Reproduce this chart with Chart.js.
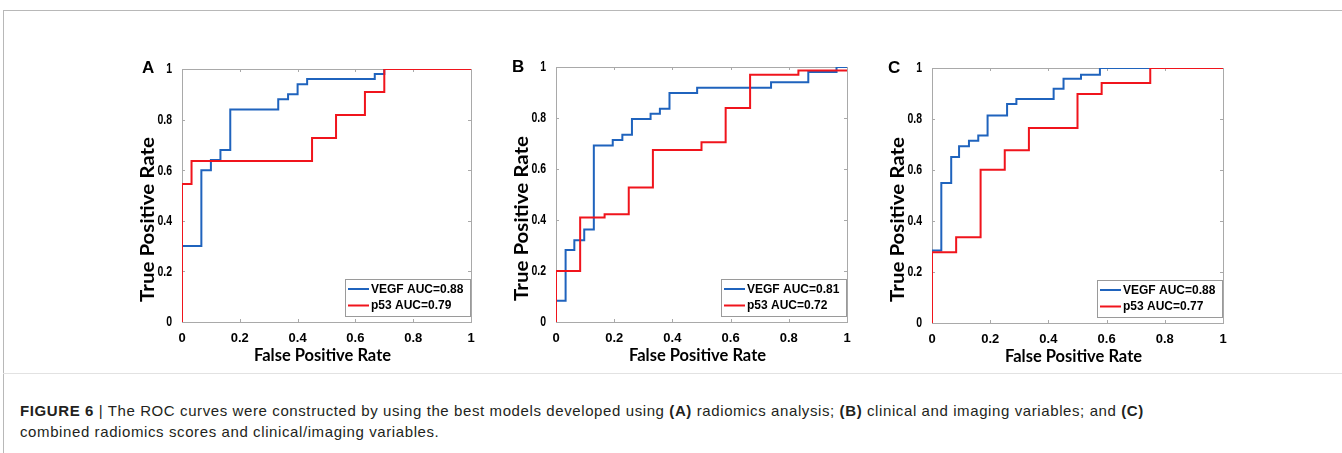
<!DOCTYPE html>
<html>
<head>
<meta charset="utf-8">
<script src="https://cdn.jsdelivr.net/npm/chart.js@4.4.1/dist/chart.umd.min.js"></script>
<style>
  html, body { margin: 0; padding: 0; background: #fff; }
  body { width: 1342px; height: 453px; position: relative; overflow: hidden; font-family: "Liberation Sans", Arial, sans-serif; }
  .frame { position: absolute; left: 3px; top: 10px; right: 0; bottom: 0; border-top: 1px solid #b8b8b8; border-left: 1px solid #b8b8b8; }
  .sep { position: absolute; left: 3px; right: 0; top: 373px; border-top: 1px solid #e2e2e2; }
  canvas { position: absolute; }
  .letter { position: absolute; font: bold 17px "Liberation Sans", Arial, sans-serif; color: #000; z-index: 2; }
  .caption { position: absolute; left: 20px; top: 400px; font-size: 15px; letter-spacing: 0.6px; line-height: 21px; color: #231f20; white-space: nowrap; }
</style>
</head>
<body>
<div class="frame"></div>
<div class="sep"></div>

<canvas id="chartA" width="355" height="315" style="left:130px;top:55px"></canvas>
<canvas id="chartB" width="357" height="317" style="left:504px;top:53px"></canvas>
<canvas id="chartC" width="357" height="317" style="left:880px;top:54px"></canvas>

<div class="letter" style="left:142px;top:58px">A</div>
<div class="letter" style="left:512px;top:57px">B</div>
<div class="letter" style="left:888px;top:58px">C</div>

<div class="caption">
  <b>FIGURE 6</b> | The ROC curves were constructed by using the best models developed using <b>(A)</b> radiomics analysis; <b>(B)</b> clinical and imaging variables; and <b>(C)</b><br>
  combined radiomics scores and clinical/imaging variables.
</div>

<script>
// x = FPR where the curve steps up, y = TPR reached at that step

// A: radiomics
const vegfA_fpr = [0, 0.067, 0.1, 0.133, 0.167, 0.333, 0.367, 0.4, 0.433, 0.667, 0.7];
const vegfA_tpr = [0.3, 0.6, 0.64, 0.68, 0.84, 0.88, 0.9, 0.94, 0.96, 0.98, 1];
const p53A_fpr = [0, 0.033, 0.45, 0.533, 0.633, 0.7];
const p53A_tpr = [0.545, 0.636, 0.727, 0.818, 0.909, 1];

// B: clinical and imaging
const vegfB_fpr = [0, 0.033, 0.063, 0.097, 0.13, 0.195, 0.228, 0.261, 0.325, 0.357, 0.39, 0.485, 0.739, 0.867, 0.964];
const vegfB_tpr = [0.083, 0.282, 0.321, 0.363, 0.692, 0.714, 0.734, 0.796, 0.817, 0.836, 0.898, 0.919, 0.94, 0.98, 1];
const p53B_fpr = [0, 0.083, 0.167, 0.25, 0.333, 0.5, 0.583, 0.667, 0.833];
const p53B_tpr = [0.2, 0.41, 0.423, 0.527, 0.675, 0.705, 0.839, 0.97, 0.986];

// C: combined
const vegfC_fpr = [0, 0.032, 0.066, 0.093, 0.127, 0.159, 0.191, 0.258, 0.29, 0.418, 0.452, 0.512, 0.577];
const vegfC_tpr = [0.284, 0.549, 0.651, 0.693, 0.715, 0.735, 0.814, 0.859, 0.878, 0.919, 0.958, 0.974, 1];
const p53C_fpr = [0, 0.083, 0.167, 0.25, 0.333, 0.5, 0.583, 0.75];
const p53C_tpr = [0.277, 0.336, 0.601, 0.677, 0.765, 0.898, 0.941, 1];

const aucLabels = {
    A: ['VEGF AUC=0.88', 'p53 AUC=0.79'],
    B: ['VEGF AUC=0.81', 'p53 AUC=0.72'],
    C: ['VEGF AUC=0.88', 'p53 AUC=0.77']
};

const tickValues = [0, 0.2, 0.4, 0.6, 0.8, 1];
const xTitle = 'False Positive Rate';
const yTitle = 'True Positive Rate';

const BLUE = '#1f63bd';
const RED = '#f0141c';
const AXIS = '#a9a9a9';

const fmt = v => (v === 0 ? '0' : v === 1 ? '1' : v.toFixed(1));

// staircase: rise at each fpr, then run to the next one
function staircase(fpr, tpr) {
    const pts = [{ x: 0, y: 0 }];
    let prev = 0;
    fpr.forEach((x, i) => {
        pts.push({ x: x, y: prev });
        pts.push({ x: x, y: tpr[i] });
        prev = tpr[i];
    });
    pts.push({ x: 1, y: prev });
    return pts;
}

// MATLAB-like box, inward ticks, squeezed y labels and boxed legend
const matlabBox = {
    id: 'matlabBox',
    beforeDatasetsDraw(chart) {
        const { ctx, chartArea: a, scales } = chart;
        ctx.save();
        ctx.strokeStyle = AXIS;
        ctx.lineWidth = 1;
        ctx.strokeRect(a.left + 0.5, a.top + 0.5, a.right - a.left, a.bottom - a.top);
        const len = 3;
        ctx.beginPath();
        tickValues.forEach(v => {
            const px = Math.round(scales.x.getPixelForValue(v)) + 0.5;
            const py = Math.round(scales.y.getPixelForValue(v)) + 0.5;
            ctx.moveTo(px, a.bottom); ctx.lineTo(px, a.bottom - len);
            ctx.moveTo(px, a.top); ctx.lineTo(px, a.top + len);
            ctx.moveTo(a.left, py); ctx.lineTo(a.left + len, py);
            ctx.moveTo(a.right, py); ctx.lineTo(a.right - len, py);
        });
        ctx.stroke();

        // y tick labels (narrow, as in the source figure)
        ctx.fillStyle = '#000';
        ctx.font = 'bold 14px "Liberation Sans", Arial, sans-serif';
        ctx.textAlign = 'right';
        ctx.textBaseline = 'middle';
        tickValues.forEach(v => {
            ctx.save();
            ctx.translate(a.left - 10, scales.y.getPixelForValue(v) + 0.5);
            ctx.scale(0.75, 1);
            ctx.fillText(fmt(v), 0, 0);
            ctx.restore();
        });

        // y title
        ctx.save();
        ctx.translate(a.left - 34, (a.top + a.bottom) / 2 + 24);
        ctx.rotate(-Math.PI / 2);
        ctx.scale(1, 0.88);
        ctx.textAlign = 'center';
        ctx.font = 'bold 20.5px Lato, "Open Sans", sans-serif';
        ctx.fillText(yTitle, 0, 0);
        ctx.restore();

        // x title
        ctx.textAlign = 'center';
        ctx.font = 'bold 16.5px Lato, "Open Sans", sans-serif';
        ctx.fillText(xTitle, (a.left + a.right) / 2 - 4, a.bottom + 34);
        ctx.restore();
    },
    afterDatasetsDraw(chart) {
        const { ctx, chartArea: a } = chart;
        const sets = chart.data.datasets;
        ctx.save();
        ctx.font = 'bold 12px "Liberation Sans", Arial, sans-serif';
        const tw = Math.max(...sets.map(s => ctx.measureText(s.label).width));
        const w = Math.round(3 + 21 + 2 + tw + 7);
        const h = 37;
        const right = a.right - 1;
        const bottom = a.bottom - 6;
        const left = right - w;
        const top = bottom - h;
        ctx.fillStyle = '#fff';
        ctx.fillRect(left, top, w, h);
        ctx.strokeStyle = '#9a9a9a';
        ctx.lineWidth = 1;
        ctx.strokeRect(left + 0.5, top + 0.5, w, h);
        sets.forEach((s, i) => {
            const yy = top + 10 + i * 16.5;
            ctx.strokeStyle = s.borderColor;
            ctx.lineWidth = 2;
            ctx.beginPath();
            ctx.moveTo(left + 3, yy);
            ctx.lineTo(left + 24, yy);
            ctx.stroke();
            ctx.fillStyle = '#000';
            ctx.textBaseline = 'middle';
            ctx.fillText(s.label, left + 26, yy + 0.5);
        });
        ctx.restore();
    }
};

function makeRoc(id, vegf, p53, labels) {
    const tickFont = { family: '"Liberation Sans", Arial, sans-serif', size: 13, weight: 'bold' };
    new Chart(document.getElementById(id), {
        type: 'scatter',
        data: {
            datasets: [
                { label: labels[0], data: vegf, borderColor: BLUE, order: 1 },
                { label: labels[1], data: p53, borderColor: RED, order: 0 }
            ]
        },
        options: {
            responsive: false,
            animation: false,
            showLine: true,
            layout: { padding: { left: 0, top: 14, right: 14, bottom: 0 } },
            elements: {
                point: { radius: 0, hoverRadius: 0 },
                line: { borderWidth: 2, tension: 0, fill: false }
            },
            plugins: { legend: { display: false }, tooltip: { enabled: false } },
            scales: {
                x: {
                    type: 'linear', min: 0, max: 1,
                    afterBuildTicks: s => { s.ticks = tickValues.map(v => ({ value: v })); },
                    afterFit: s => { s.height = 48; },
                    grid: { display: false, drawTicks: false },
                    border: { display: false },
                    ticks: { font: tickFont, color: '#000', padding: 9, maxRotation: 0, callback: v => fmt(v) }
                },
                y: {
                    type: 'linear', min: 0, max: 1,
                    afterBuildTicks: s => { s.ticks = tickValues.map(v => ({ value: v })); },
                    afterFit: s => { s.width = 52; },
                    grid: { display: false, drawTicks: false },
                    border: { display: false },
                    ticks: { display: false }
                }
            }
        },
        plugins: [matlabBox]
    });
}

makeRoc('chartA', staircase(vegfA_fpr, vegfA_tpr), staircase(p53A_fpr, p53A_tpr), aucLabels.A);
makeRoc('chartB', staircase(vegfB_fpr, vegfB_tpr), staircase(p53B_fpr, p53B_tpr), aucLabels.B);
makeRoc('chartC', staircase(vegfC_fpr, vegfC_tpr), staircase(p53C_fpr, p53C_tpr), aucLabels.C);
</script>
</body>
</html>
